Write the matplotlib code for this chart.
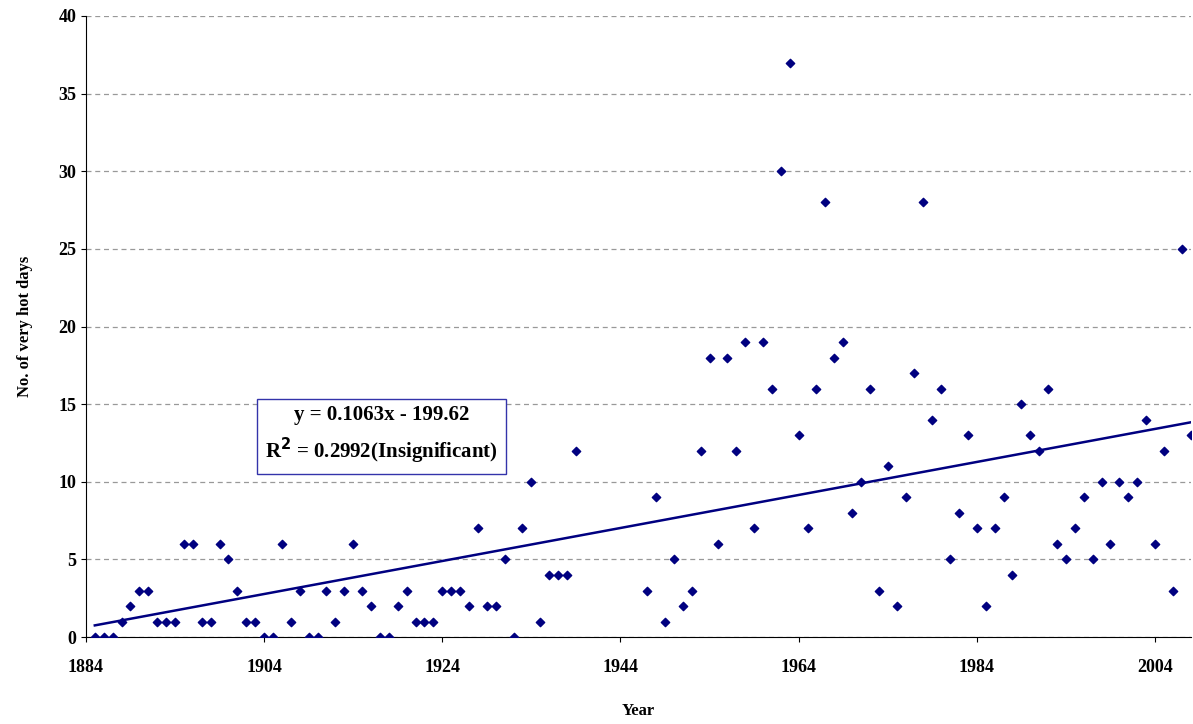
import numpy as np
import matplotlib.pyplot as plt

years = list(range(1885, 1940)) + list(range(1947, 2009))
hot_days = [0, 0, 0, 1, 2, 3, 3, 1, 1, 1, 6, 6, 1, 1, 6, 5, 3, 1, 1, 0,
            0, 6, 1, 3, 0, 0, 3, 1, 3, 6, 3, 2, 0, 0, 2, 3, 1, 1, 1, 3,
            3, 3, 2, 7, 2, 2, 5, 0, 7, 10, 1, 4, 4, 4, 12,
            3, 9, 1, 5, 2, 3, 12, 18, 6, 18, 12, 19, 7, 19, 16, 30, 37, 13,
            7, 16, 28, 18, 19, 8, 10, 16, 3, 11, 2, 9, 17, 28, 14, 16, 5,
            8, 13, 7, 2, 7, 9, 4, 15, 13, 12, 16, 6, 5, 7, 9, 5, 10, 6,
            10, 9, 10, 14, 6, 12, 3, 25, 13]
slope, intercept = 0.1063, -199.62
trend_label = "y = 0.1063x - 199.62\nR$^2$ = 0.2992(Insignificant)"

plt.rcParams['font.family'] = ['Liberation Serif', 'DejaVu Serif']
plt.rcParams['font.weight'] = 'bold'

fig = plt.figure(figsize=(11.93, 7.24), dpi=100)
ax = fig.add_axes([0.072, 0.12, 0.926, 0.858])

navy = '#000080'
ax.scatter(years, hot_days, marker='D', s=18, color=navy, zorder=3)
tx = np.array([years[0], years[-1]])
ax.plot(tx, slope * tx + intercept, color=navy, lw=1.8, zorder=2)

ax.set_xlim(1884, 2008)
ax.set_ylim(0, 40)
ax.set_xticks(range(1884, 2005, 20))
ax.set_yticks(range(0, 41, 5))
ax.yaxis.grid(True, ls=(0, (4, 3)), color='#999999', lw=0.9)
ax.tick_params(labelsize=13, direction='out')
ax.tick_params(axis='x', pad=12)
for s in ['top', 'right']:
    ax.spines[s].set_visible(False)
ax.set_xlabel('Year', fontsize=12, fontweight='bold', labelpad=20)
ax.set_ylabel('No. of very hot days', fontsize=12, fontweight='bold', labelpad=18)

ax.text(1917.2, 13.0, trend_label, fontsize=15, ha='center', va='center',
        linespacing=1.5,
        bbox=dict(boxstyle='square,pad=0.4', fc='white', ec='#3333aa', lw=1))

fig.savefig('out.png', dpi=100)
